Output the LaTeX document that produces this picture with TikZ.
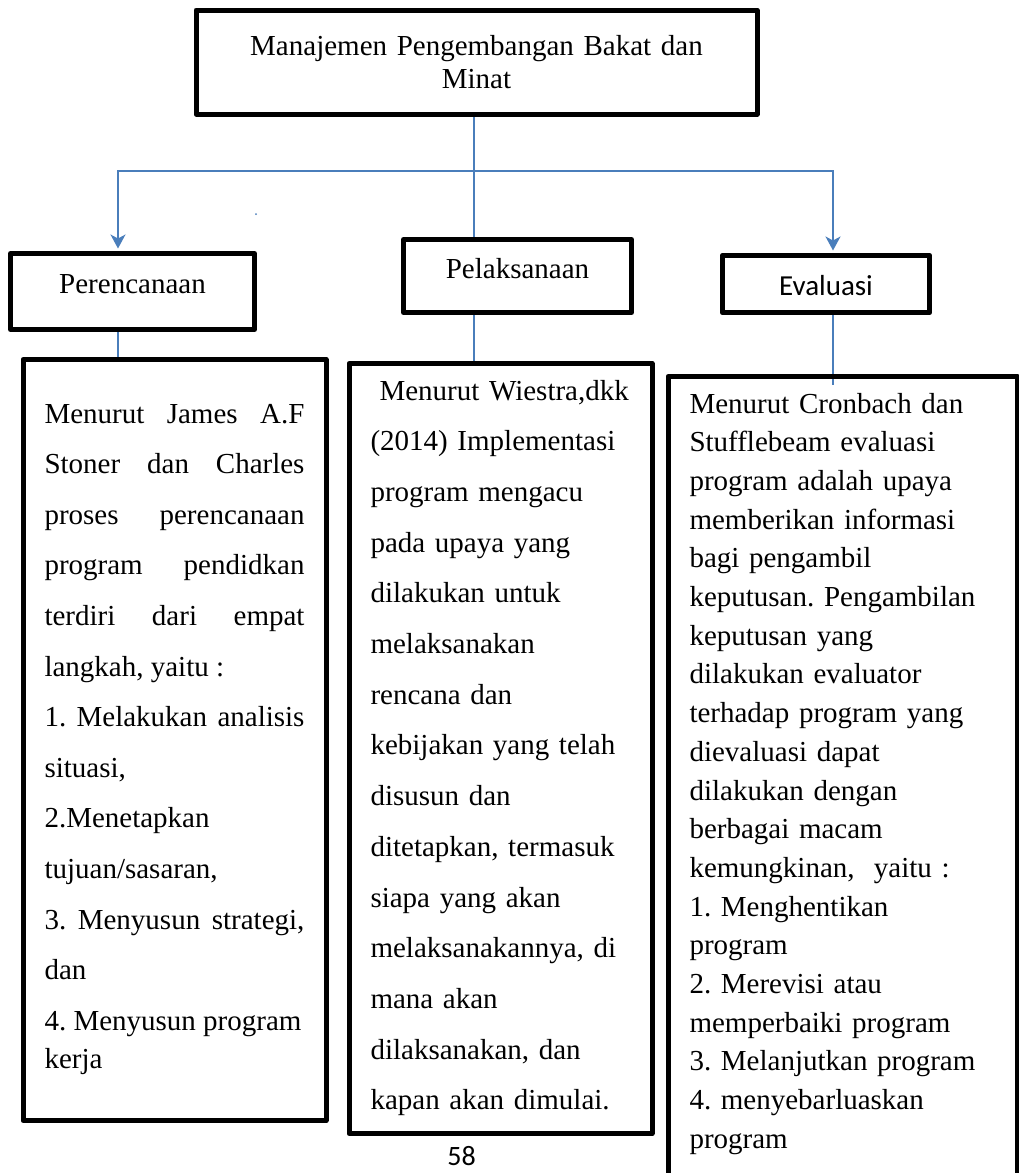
\documentclass[tikz,border=0pt]{standalone}
\usepackage{fontspec}
\setmainfont{Liberation Serif}
\newfontfamily\carlito{Carlito}
\usetikzlibrary{arrows.meta,backgrounds}
\definecolor{wblue}{HTML}{4A7EBB}
\tolerance=10000
\hbadness=10000
\hyphenpenalty=10000
\frenchspacing
\begin{document}
\frenchspacing
\begin{tikzpicture}[x=1pt,y=-1pt,
  box/.style={draw=black,line width=5pt,inner sep=0pt,line join=round},
  conn/.style={draw=wblue,line width=1.8pt},
  arr/.style={conn,-{Stealth[length=14pt,width=15pt,inset=4pt]}},
  body/.style={box,inner xsep=21.5pt,inner ysep=0pt,align=left},
  big/.style={font={\frenchspacing\fontsize{29}{33}\selectfont}}]
\useasboundingbox (0,0) rectangle (1019,1173);
\clip (0,0) rectangle (1019,1173);

\node[box,big,anchor=base,text width=561pt,align=center,text height=45pt,text depth=59pt] (top) at (476.5,55) {Manajemen Pengembangan Bakat dan\\Minat};

\node[box,big,anchor=base,minimum width=244pt,text height=39.5pt,text depth=36.5pt] (perc) at (132.5,293) {Perencanaan};
\node[box,big,anchor=base,minimum width=228pt,text height=38.5pt,text depth=34.5pt] (pel) at (517.5,278) {Pelaksanaan};
\node[box,anchor=base,minimum width=207.5pt,text height=39.5pt,text depth=17.5pt,font={\carlito\fontsize{29}{33}\selectfont}] (eva) at (826,295) {Evaluasi};

\node[body,anchor=base west,text width=260pt,align=justify,text height=63.5pt,text depth=697.5pt,font={\frenchspacing\fontsize{29}{50.6}\selectfont}] (ptext) at (20.5,423) {Menurut James A.F\linebreak Stoner dan Charles\linebreak proses perencanaan\linebreak program pendidkan\linebreak terdiri dari empat\linebreak langkah, yaitu :\\1. Melakukan analisis\linebreak situasi,\\2.Menetapkan\\tujuan/sasaran,\\3. Menyusun strategi,\linebreak dan\\4. Menyusun program\\[-12.6pt]kerja};

\node[body,anchor=base west,text width=260pt,text height=36.5pt,text depth=733.5pt,font={\frenchspacing\fontsize{29}{50.7}\selectfont}] (ltext) at (346.5,400) {\hspace*{9pt}Menurut Wiestra,dkk\\(2014) Implementasi\\program mengacu\\pada upaya yang\\dilakukan untuk\\melaksanakan\\rencana dan\\kebijakan yang telah\\disusun dan\\ditetapkan, termasuk\\siapa yang akan\\melaksanakannya, di\\mana akan\\dilaksanakan, dan\\kapan akan dimulai.};

\node[body,anchor=base west,text width=306pt,text height=36.5pt,text depth=777pt,font={\frenchspacing\fontsize{29}{38.7}\selectfont}] (etext) at (665.5,413) {Menurut Cronbach dan\\Stufflebeam evaluasi\\program adalah upaya\\memberikan informasi\\bagi pengambil\\keputusan. Pengambilan\\keputusan yang\\dilakukan evaluator\\terhadap program yang\\dievaluasi dapat\\dilakukan dengan\\berbagai macam\\kemungkinan,~ yaitu :\\1. Menghentikan\\program\\2. Merevisi atau\\memperbaiki program\\3. Melanjutkan program\\4. menyebarluaskan\\program};

\node[anchor=base,inner sep=0pt,text depth=0pt,font={\carlito\fontsize{28}{32}\selectfont}] (pg) at (461.5,1165) {58};

\coordinate (jm) at (474,171);
\coordinate (jl) at (118,171);
\coordinate (jr) at (833,171);

\begin{scope}[on background layer]
\fill[white] (0,0) rectangle (1019,1173);
\draw[conn] (top.south -| jm) -- (pel.north -| jm);
\draw[arr] (jm) -- (jl) -- ([yshift=2.5pt]perc.north -| jl);
\draw[arr] (jm) -- (jr) -- ([yshift=2.5pt]eva.north -| jr);
\draw[conn] (perc.south -| jl) -- (ptext.north -| jl);
\draw[conn] (pel.south -| jm) -- (ltext.north -| jm);
\draw[conn] (eva.south -| jr) -- ([yshift=-10.5pt]etext.north -| jr);
\fill[wblue] (256,214) circle (1pt);
\end{scope}
\end{tikzpicture}
\end{document}
